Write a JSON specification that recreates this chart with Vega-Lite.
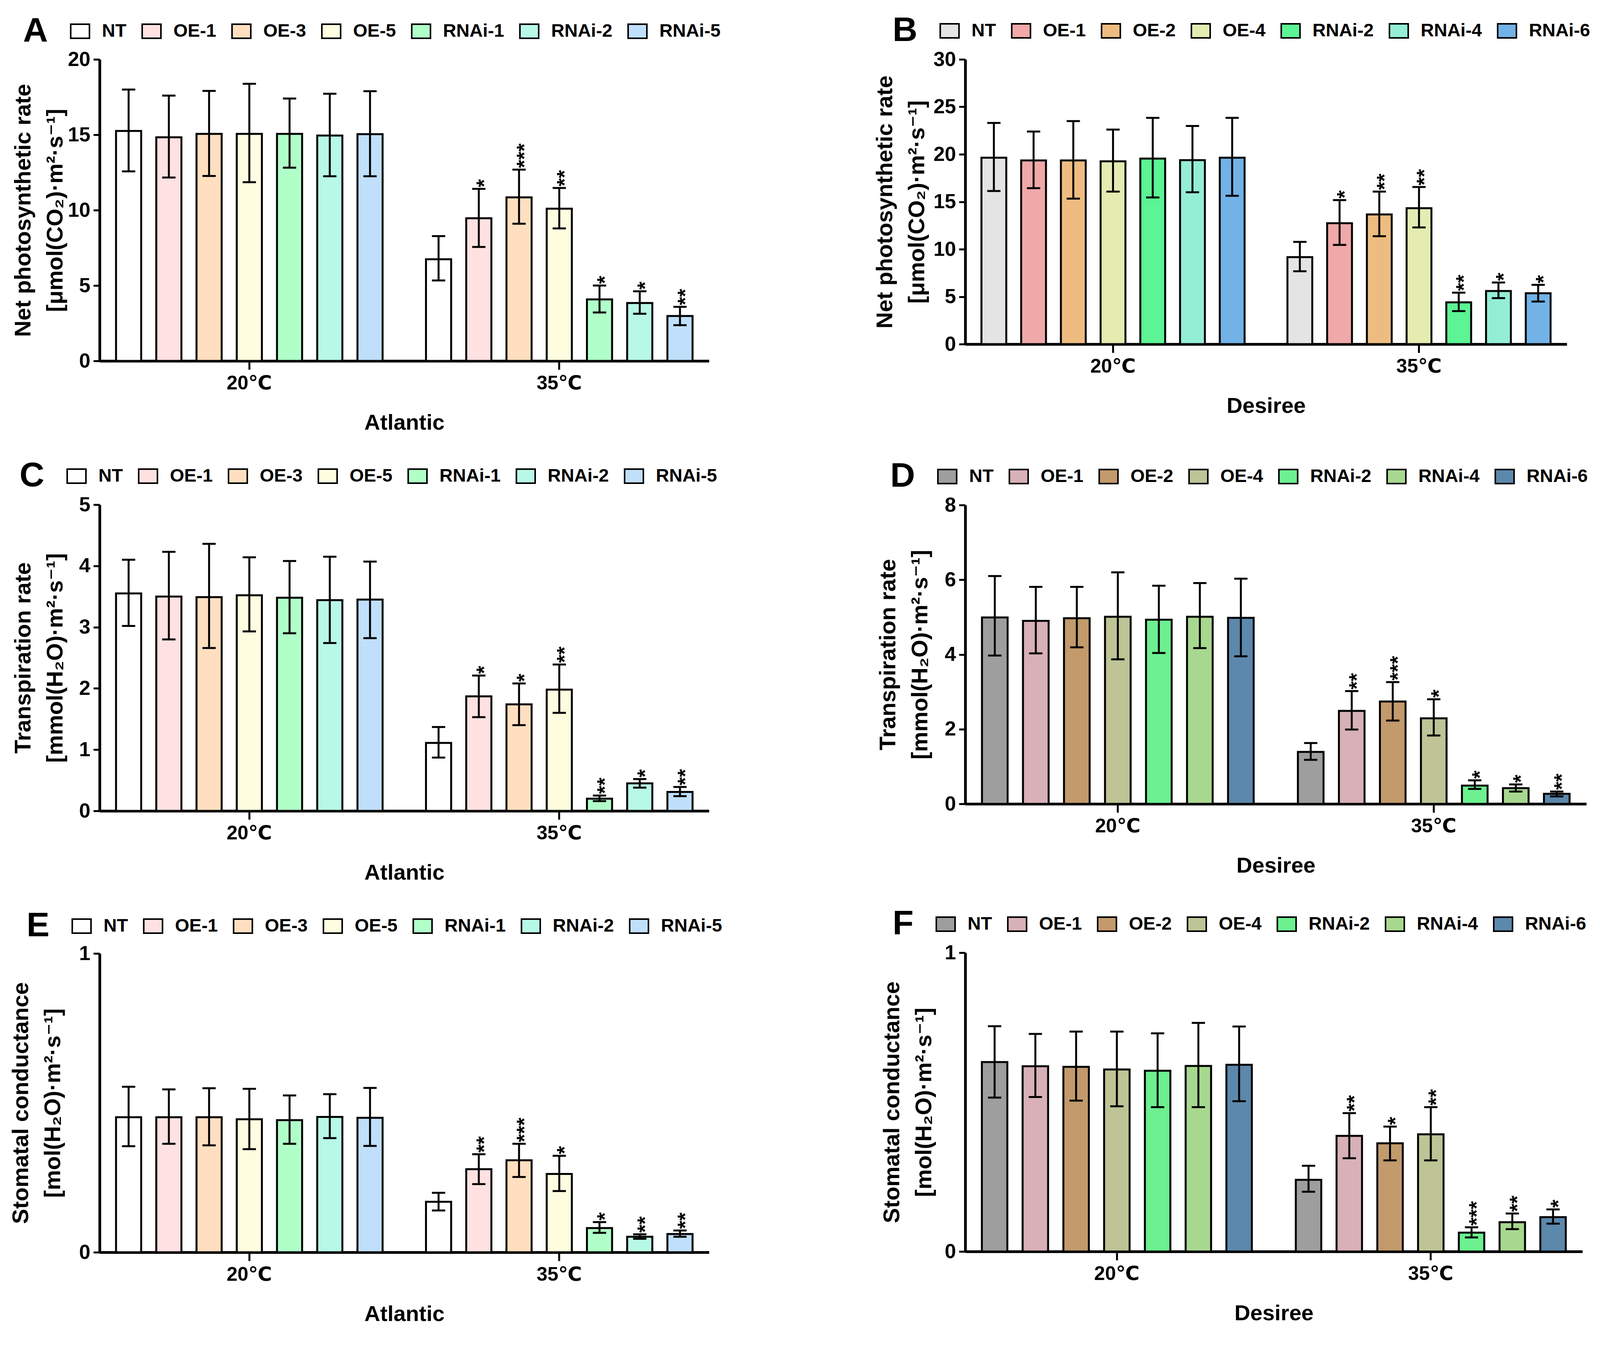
{
  "$schema": "https://vega.github.io/schema/vega-lite/v6.json",
  "background": "white",
  "padding": {"left": 24, "top": 53, "right": 0, "bottom": 0},
  "config": {
    "view": {"stroke": null},
    "font": "Liberation Sans, DejaVu Sans, sans-serif",
    "axis": {
      "grid": false,
      "domainColor": "black",
      "domainWidth": 7,
      "tickColor": "black",
      "tickWidth": 5,
      "labelColor": "black",
      "titleColor": "black",
      "labelFont": "Liberation Sans, DejaVu Sans, sans-serif",
      "labelFontWeight": "bold",
      "labelFontSize": 52
    },
    "axisX": {
      "tickSize": 22,
      "labelAngle": 0,
      "labelPadding": 10,
      "labelFontSize": 50,
      "titleFont": "Liberation Sans, DejaVu Sans, sans-serif",
      "titleFontSize": 56,
      "titleFontWeight": "bold",
      "titlePadding": 49
    },
    "axisY": {
      "tickSize": 16,
      "labelPadding": 8,
      "format": "~g",
      "titleFont": "Liberation Sans, DejaVu Sans, sans-serif",
      "titleFontSize": 58,
      "titleFontWeight": "bold",
      "titleLineHeight": 82
    },
    "legend": {
      "orient": "none",
      "direction": "horizontal",
      "titleOrient": "left",
      "titleFont": "Liberation Sans, DejaVu Sans, sans-serif",
      "titleFontSize": 88,
      "titleFontWeight": "bold",
      "titleColor": "black",
      "titlePadding": 56,
      "symbolType": "M-1,-0.75H1V0.75H-1Z",
      "symbolSize": 2304,
      "symbolStrokeColor": "black",
      "symbolStrokeWidth": 4,
      "symbolOpacity": 1,
      "labelFont": "Liberation Sans, DejaVu Sans, sans-serif",
      "labelFontWeight": "bold",
      "labelFontSize": 47,
      "labelColor": "black",
      "labelOffset": 30,
      "columnPadding": 32,
      "labelLimit": 400
    }
  },
  "datasets": {
    "gas": [
      {"panel": "A", "temp": "20℃", "line": "NT", "mean": 15.25, "lo": 12.57, "hi": 18.0, "sig": ""},
      {"panel": "A", "temp": "20℃", "line": "OE-1", "mean": 14.83, "lo": 12.16, "hi": 17.6, "sig": ""},
      {"panel": "A", "temp": "20℃", "line": "OE-3", "mean": 15.06, "lo": 12.27, "hi": 17.91, "sig": ""},
      {"panel": "A", "temp": "20℃", "line": "OE-5", "mean": 15.06, "lo": 11.85, "hi": 18.38, "sig": ""},
      {"panel": "A", "temp": "20℃", "line": "RNAi-1", "mean": 15.06, "lo": 12.82, "hi": 17.4, "sig": ""},
      {"panel": "A", "temp": "20℃", "line": "RNAi-2", "mean": 14.95, "lo": 12.25, "hi": 17.72, "sig": ""},
      {"panel": "A", "temp": "20℃", "line": "RNAi-5", "mean": 15.04, "lo": 12.25, "hi": 17.89, "sig": ""},
      {"panel": "A", "temp": "35℃", "line": "NT", "mean": 6.74, "lo": 5.34, "hi": 8.28, "sig": ""},
      {"panel": "A", "temp": "35℃", "line": "OE-1", "mean": 9.46, "lo": 7.56, "hi": 11.41, "sig": "*"},
      {"panel": "A", "temp": "35℃", "line": "OE-3", "mean": 10.85, "lo": 9.1, "hi": 12.69, "sig": "***"},
      {"panel": "A", "temp": "35℃", "line": "OE-5", "mean": 10.1, "lo": 8.79, "hi": 11.47, "sig": "**"},
      {"panel": "A", "temp": "35℃", "line": "RNAi-1", "mean": 4.08, "lo": 3.21, "hi": 5.0, "sig": "*"},
      {"panel": "A", "temp": "35℃", "line": "RNAi-2", "mean": 3.84, "lo": 3.13, "hi": 4.62, "sig": "*"},
      {"panel": "A", "temp": "35℃", "line": "RNAi-5", "mean": 2.98, "lo": 2.37, "hi": 3.59, "sig": "**"},

      {"panel": "B", "temp": "20℃", "line": "NT", "mean": 19.64, "lo": 16.13, "hi": 23.3, "sig": ""},
      {"panel": "B", "temp": "20℃", "line": "OE-1", "mean": 19.35, "lo": 16.43, "hi": 22.4, "sig": ""},
      {"panel": "B", "temp": "20℃", "line": "OE-2", "mean": 19.35, "lo": 15.33, "hi": 23.5, "sig": ""},
      {"panel": "B", "temp": "20℃", "line": "OE-4", "mean": 19.26, "lo": 16.07, "hi": 22.6, "sig": ""},
      {"panel": "B", "temp": "20℃", "line": "RNAi-2", "mean": 19.55, "lo": 15.45, "hi": 23.84, "sig": ""},
      {"panel": "B", "temp": "20℃", "line": "RNAi-4", "mean": 19.38, "lo": 16.0, "hi": 22.98, "sig": ""},
      {"panel": "B", "temp": "20℃", "line": "RNAi-6", "mean": 19.64, "lo": 15.63, "hi": 23.84, "sig": ""},
      {"panel": "B", "temp": "35℃", "line": "NT", "mean": 9.17, "lo": 7.68, "hi": 10.77, "sig": ""},
      {"panel": "B", "temp": "35℃", "line": "OE-1", "mean": 12.74, "lo": 10.45, "hi": 15.18, "sig": "*"},
      {"panel": "B", "temp": "35℃", "line": "OE-2", "mean": 13.66, "lo": 11.37, "hi": 16.07, "sig": "**"},
      {"panel": "B", "temp": "35℃", "line": "OE-4", "mean": 14.32, "lo": 12.29, "hi": 16.55, "sig": "**"},
      {"panel": "B", "temp": "35℃", "line": "RNAi-2", "mean": 4.4, "lo": 3.48, "hi": 5.42, "sig": "**"},
      {"panel": "B", "temp": "35℃", "line": "RNAi-4", "mean": 5.6, "lo": 4.85, "hi": 6.49, "sig": "*"},
      {"panel": "B", "temp": "35℃", "line": "RNAi-6", "mean": 5.36, "lo": 4.49, "hi": 6.25, "sig": "*"},

      {"panel": "C", "temp": "20℃", "line": "NT", "mean": 3.55, "lo": 3.02, "hi": 4.1, "sig": ""},
      {"panel": "C", "temp": "20℃", "line": "OE-1", "mean": 3.5, "lo": 2.8, "hi": 4.23, "sig": ""},
      {"panel": "C", "temp": "20℃", "line": "OE-3", "mean": 3.49, "lo": 2.66, "hi": 4.36, "sig": ""},
      {"panel": "C", "temp": "20℃", "line": "OE-5", "mean": 3.52, "lo": 2.93, "hi": 4.14, "sig": ""},
      {"panel": "C", "temp": "20℃", "line": "RNAi-1", "mean": 3.48, "lo": 2.9, "hi": 4.08, "sig": ""},
      {"panel": "C", "temp": "20℃", "line": "RNAi-2", "mean": 3.44, "lo": 2.74, "hi": 4.15, "sig": ""},
      {"panel": "C", "temp": "20℃", "line": "RNAi-5", "mean": 3.45, "lo": 2.82, "hi": 4.07, "sig": ""},
      {"panel": "C", "temp": "35℃", "line": "NT", "mean": 1.11, "lo": 0.87, "hi": 1.37, "sig": ""},
      {"panel": "C", "temp": "35℃", "line": "OE-1", "mean": 1.87, "lo": 1.53, "hi": 2.21, "sig": "*"},
      {"panel": "C", "temp": "35℃", "line": "OE-3", "mean": 1.74, "lo": 1.4, "hi": 2.08, "sig": "*"},
      {"panel": "C", "temp": "35℃", "line": "OE-5", "mean": 1.98, "lo": 1.6, "hi": 2.39, "sig": "**"},
      {"panel": "C", "temp": "35℃", "line": "RNAi-1", "mean": 0.2, "lo": 0.16, "hi": 0.25, "sig": "**"},
      {"panel": "C", "temp": "35℃", "line": "RNAi-2", "mean": 0.45, "lo": 0.38, "hi": 0.52, "sig": "*"},
      {"panel": "C", "temp": "35℃", "line": "RNAi-5", "mean": 0.31, "lo": 0.24, "hi": 0.39, "sig": "**"},

      {"panel": "D", "temp": "20℃", "line": "NT", "mean": 4.99, "lo": 3.97, "hi": 6.1, "sig": ""},
      {"panel": "D", "temp": "20℃", "line": "OE-1", "mean": 4.9, "lo": 4.03, "hi": 5.81, "sig": ""},
      {"panel": "D", "temp": "20℃", "line": "OE-2", "mean": 4.97, "lo": 4.19, "hi": 5.81, "sig": ""},
      {"panel": "D", "temp": "20℃", "line": "OE-4", "mean": 5.01, "lo": 3.87, "hi": 6.2, "sig": ""},
      {"panel": "D", "temp": "20℃", "line": "RNAi-2", "mean": 4.93, "lo": 4.04, "hi": 5.84, "sig": ""},
      {"panel": "D", "temp": "20℃", "line": "RNAi-4", "mean": 5.01, "lo": 4.17, "hi": 5.91, "sig": ""},
      {"panel": "D", "temp": "20℃", "line": "RNAi-6", "mean": 4.98, "lo": 3.95, "hi": 6.03, "sig": ""},
      {"panel": "D", "temp": "35℃", "line": "NT", "mean": 1.39, "lo": 1.18, "hi": 1.63, "sig": ""},
      {"panel": "D", "temp": "35℃", "line": "OE-1", "mean": 2.49, "lo": 1.99, "hi": 3.02, "sig": "**"},
      {"panel": "D", "temp": "35℃", "line": "OE-2", "mean": 2.74, "lo": 2.23, "hi": 3.26, "sig": "***"},
      {"panel": "D", "temp": "35℃", "line": "OE-4", "mean": 2.29, "lo": 1.83, "hi": 2.8, "sig": "*"},
      {"panel": "D", "temp": "35℃", "line": "RNAi-2", "mean": 0.49, "lo": 0.4, "hi": 0.63, "sig": "*"},
      {"panel": "D", "temp": "35℃", "line": "RNAi-4", "mean": 0.42, "lo": 0.33, "hi": 0.52, "sig": "*"},
      {"panel": "D", "temp": "35℃", "line": "RNAi-6", "mean": 0.27, "lo": 0.2, "hi": 0.33, "sig": "**"},

      {"panel": "E", "temp": "20℃", "line": "NT", "mean": 0.452, "lo": 0.355, "hi": 0.554, "sig": ""},
      {"panel": "E", "temp": "20℃", "line": "OE-1", "mean": 0.452, "lo": 0.363, "hi": 0.545, "sig": ""},
      {"panel": "E", "temp": "20℃", "line": "OE-3", "mean": 0.452, "lo": 0.358, "hi": 0.549, "sig": ""},
      {"panel": "E", "temp": "20℃", "line": "OE-5", "mean": 0.445, "lo": 0.345, "hi": 0.547, "sig": ""},
      {"panel": "E", "temp": "20℃", "line": "RNAi-1", "mean": 0.442, "lo": 0.363, "hi": 0.525, "sig": ""},
      {"panel": "E", "temp": "20℃", "line": "RNAi-2", "mean": 0.453, "lo": 0.382, "hi": 0.529, "sig": ""},
      {"panel": "E", "temp": "20℃", "line": "RNAi-5", "mean": 0.45, "lo": 0.356, "hi": 0.55, "sig": ""},
      {"panel": "E", "temp": "35℃", "line": "NT", "mean": 0.169, "lo": 0.14, "hi": 0.199, "sig": ""},
      {"panel": "E", "temp": "35℃", "line": "OE-1", "mean": 0.278, "lo": 0.228, "hi": 0.328, "sig": "**"},
      {"panel": "E", "temp": "35℃", "line": "OE-3", "mean": 0.308, "lo": 0.252, "hi": 0.363, "sig": "***"},
      {"panel": "E", "temp": "35℃", "line": "OE-5", "mean": 0.262, "lo": 0.205, "hi": 0.323, "sig": "*"},
      {"panel": "E", "temp": "35℃", "line": "RNAi-1", "mean": 0.081, "lo": 0.065, "hi": 0.101, "sig": "*"},
      {"panel": "E", "temp": "35℃", "line": "RNAi-2", "mean": 0.052, "lo": 0.045, "hi": 0.06, "sig": "**"},
      {"panel": "E", "temp": "35℃", "line": "RNAi-5", "mean": 0.061, "lo": 0.052, "hi": 0.073, "sig": "**"},

      {"panel": "F", "temp": "20℃", "line": "NT", "mean": 0.634, "lo": 0.515, "hi": 0.754, "sig": ""},
      {"panel": "F", "temp": "20℃", "line": "OE-1", "mean": 0.62, "lo": 0.517, "hi": 0.728, "sig": ""},
      {"panel": "F", "temp": "20℃", "line": "OE-2", "mean": 0.618, "lo": 0.505, "hi": 0.736, "sig": ""},
      {"panel": "F", "temp": "20℃", "line": "OE-4", "mean": 0.609, "lo": 0.486, "hi": 0.736, "sig": ""},
      {"panel": "F", "temp": "20℃", "line": "RNAi-2", "mean": 0.605, "lo": 0.483, "hi": 0.73, "sig": ""},
      {"panel": "F", "temp": "20℃", "line": "RNAi-4", "mean": 0.621, "lo": 0.483, "hi": 0.765, "sig": ""},
      {"panel": "F", "temp": "20℃", "line": "RNAi-6", "mean": 0.625, "lo": 0.503, "hi": 0.753, "sig": ""},
      {"panel": "F", "temp": "35℃", "line": "NT", "mean": 0.24, "lo": 0.2, "hi": 0.287, "sig": ""},
      {"panel": "F", "temp": "35℃", "line": "OE-1", "mean": 0.387, "lo": 0.312, "hi": 0.463, "sig": "**"},
      {"panel": "F", "temp": "35℃", "line": "OE-2", "mean": 0.362, "lo": 0.305, "hi": 0.418, "sig": "*"},
      {"panel": "F", "temp": "35℃", "line": "OE-4", "mean": 0.392, "lo": 0.305, "hi": 0.483, "sig": "**"},
      {"panel": "F", "temp": "35℃", "line": "RNAi-2", "mean": 0.063, "lo": 0.047, "hi": 0.081, "sig": "***"},
      {"panel": "F", "temp": "35℃", "line": "RNAi-4", "mean": 0.098, "lo": 0.075, "hi": 0.127, "sig": "**"},
      {"panel": "F", "temp": "35℃", "line": "RNAi-6", "mean": 0.115, "lo": 0.093, "hi": 0.141, "sig": "*"}
    ]
  },
  "data": {"name": "gas"},
  "resolve": {"scale": {"color": "independent", "xOffset": "independent"}, "legend": {"color": "independent"}},
  "spacing": 387,
  "hconcat": [
    {
      "resolve": {"scale": {"color": "independent", "xOffset": "independent"}, "legend": {"color": "independent"}},
      "spacing": 83,
      "vconcat": [
        {
          "width": 1560, "height": 772,
          "transform": [{"filter": "datum.panel === 'A'"}],
          "encoding": {
            "x": {"field": "temp", "type": "nominal", "sort": ["20℃", "35℃"], "scale": {"paddingInner": 0.14, "paddingOuter": 0.053}, "axis": {"title": "Atlantic"}},
            "xOffset": {"field": "line", "type": "nominal", "sort": ["NT", "OE-1", "OE-3", "OE-5", "RNAi-1", "RNAi-2", "RNAi-5"], "scale": {"paddingInner": 0.375, "paddingOuter": 0}}
          },
          "layer": [
            {"mark": {"type": "bar", "stroke": "black", "strokeWidth": 5},
             "encoding": {
               "y": {"field": "mean", "type": "quantitative", "scale": {"domain": [0, 20], "nice": false}, "axis": {"values": [0, 5, 10, 15, 20], "title": ["Net photosynthetic rate", "[μmol(CO₂)·m²·s⁻¹]"], "titleX": -166}},
               "color": {"field": "line", "type": "nominal", "scale": {"domain": ["NT", "OE-1", "OE-3", "OE-5", "RNAi-1", "RNAi-2", "RNAi-5"], "range": ["#FFFFFF", "#FFE1E1", "#FFDFBF", "#FFFDE0", "#B0FFC8", "#B8F8E6", "#C0DFFA"]}, "legend": {"title": "A", "legendX": -196, "legendY": -98}}
             }},
            {"mark": {"type": "rule", "color": "black", "strokeWidth": 5}, "encoding": {"y": {"field": "lo", "type": "quantitative"}, "y2": {"field": "hi"}}},
            {"mark": {"type": "tick", "color": "black", "size": 34, "thickness": 5, "opacity": 1}, "encoding": {"y": {"field": "hi", "type": "quantitative"}}},
            {"mark": {"type": "tick", "color": "black", "size": 34, "thickness": 5, "opacity": 1}, "encoding": {"y": {"field": "lo", "type": "quantitative"}}},
            {"mark": {"type": "text", "color": "black", "angle": 270, "align": "left", "baseline": "alphabetic", "dx": 4, "dy": 31, "fontSize": 54, "fontWeight": "bold"}, "encoding": {"y": {"field": "hi", "type": "quantitative"}, "text": {"field": "sig"}}}
          ]
        },
        {
          "width": 1560, "height": 784,
          "transform": [{"filter": "datum.panel === 'C'"}],
          "encoding": {
            "x": {"field": "temp", "type": "nominal", "sort": ["20℃", "35℃"], "scale": {"paddingInner": 0.14, "paddingOuter": 0.053}, "axis": {"title": "Atlantic"}},
            "xOffset": {"field": "line", "type": "nominal", "sort": ["NT", "OE-1", "OE-3", "OE-5", "RNAi-1", "RNAi-2", "RNAi-5"], "scale": {"paddingInner": 0.375, "paddingOuter": 0}}
          },
          "layer": [
            {"mark": {"type": "bar", "stroke": "black", "strokeWidth": 5},
             "encoding": {
               "y": {"field": "mean", "type": "quantitative", "scale": {"domain": [0, 5], "nice": false}, "axis": {"values": [0, 1, 2, 3, 4, 5], "title": ["Transpiration rate", "[mmol(H₂O)·m²·s⁻¹]"], "titleX": -166}},
               "color": {"field": "line", "type": "nominal", "scale": {"domain": ["NT", "OE-1", "OE-3", "OE-5", "RNAi-1", "RNAi-2", "RNAi-5"], "range": ["#FFFFFF", "#FFE1E1", "#FFDFBF", "#FFFDE0", "#B0FFC8", "#B8F8E6", "#C0DFFA"]}, "legend": {"title": "C", "legendX": -205, "legendY": -99}}
             }},
            {"mark": {"type": "rule", "color": "black", "strokeWidth": 5}, "encoding": {"y": {"field": "lo", "type": "quantitative"}, "y2": {"field": "hi"}}},
            {"mark": {"type": "tick", "color": "black", "size": 34, "thickness": 5, "opacity": 1}, "encoding": {"y": {"field": "hi", "type": "quantitative"}}},
            {"mark": {"type": "tick", "color": "black", "size": 34, "thickness": 5, "opacity": 1}, "encoding": {"y": {"field": "lo", "type": "quantitative"}}},
            {"mark": {"type": "text", "color": "black", "angle": 270, "align": "left", "baseline": "alphabetic", "dx": 4, "dy": 31, "fontSize": 54, "fontWeight": "bold"}, "encoding": {"y": {"field": "hi", "type": "quantitative"}, "text": {"field": "sig"}}}
          ]
        },
        {
          "width": 1560, "height": 765,
          "transform": [{"filter": "datum.panel === 'E'"}],
          "encoding": {
            "x": {"field": "temp", "type": "nominal", "sort": ["20℃", "35℃"], "scale": {"paddingInner": 0.14, "paddingOuter": 0.053}, "axis": {"title": "Atlantic"}},
            "xOffset": {"field": "line", "type": "nominal", "sort": ["NT", "OE-1", "OE-3", "OE-5", "RNAi-1", "RNAi-2", "RNAi-5"], "scale": {"paddingInner": 0.375, "paddingOuter": 0}}
          },
          "layer": [
            {"mark": {"type": "bar", "stroke": "black", "strokeWidth": 5},
             "encoding": {
               "y": {"field": "mean", "type": "quantitative", "scale": {"domain": [0, 1], "nice": false}, "axis": {"values": [0, 1], "title": ["Stomatal conductance", "[mol(H₂O)·m²·s⁻¹]"], "titleX": -172}},
               "color": {"field": "line", "type": "nominal", "scale": {"domain": ["NT", "OE-1", "OE-3", "OE-5", "RNAi-1", "RNAi-2", "RNAi-5"], "range": ["#FFFFFF", "#FFE1E1", "#FFDFBF", "#FFFDE0", "#B0FFC8", "#B8F8E6", "#C0DFFA"]}, "legend": {"title": "E", "legendX": -187, "legendY": -96}}
             }},
            {"mark": {"type": "rule", "color": "black", "strokeWidth": 5}, "encoding": {"y": {"field": "lo", "type": "quantitative"}, "y2": {"field": "hi"}}},
            {"mark": {"type": "tick", "color": "black", "size": 34, "thickness": 5, "opacity": 1}, "encoding": {"y": {"field": "hi", "type": "quantitative"}}},
            {"mark": {"type": "tick", "color": "black", "size": 34, "thickness": 5, "opacity": 1}, "encoding": {"y": {"field": "lo", "type": "quantitative"}}},
            {"mark": {"type": "text", "color": "black", "angle": 270, "align": "left", "baseline": "alphabetic", "dx": 4, "dy": 31, "fontSize": 54, "fontWeight": "bold"}, "encoding": {"y": {"field": "hi", "type": "quantitative"}, "text": {"field": "sig"}}}
          ]
        }
      ]
    },
    {
      "resolve": {"scale": {"color": "independent", "xOffset": "independent"}, "legend": {"color": "independent"}},
      "spacing": 127,
      "vconcat": [
        {
          "width": 1540, "height": 729,
          "transform": [{"filter": "datum.panel === 'B'"}],
          "encoding": {
            "x": {"field": "temp", "type": "nominal", "sort": ["20℃", "35℃"], "scale": {"paddingInner": 0.14, "paddingOuter": 0.053}, "axis": {"title": "Desiree"}},
            "xOffset": {"field": "line", "type": "nominal", "sort": ["NT", "OE-1", "OE-2", "OE-4", "RNAi-2", "RNAi-4", "RNAi-6"], "scale": {"paddingInner": 0.375, "paddingOuter": 0}}
          },
          "layer": [
            {"mark": {"type": "bar", "stroke": "black", "strokeWidth": 5},
             "encoding": {
               "y": {"field": "mean", "type": "quantitative", "scale": {"domain": [0, 30], "nice": false}, "axis": {"values": [0, 5, 10, 15, 20, 25, 30], "title": ["Net photosynthetic rate", "[μmol(CO₂)·m²·s⁻¹]"], "titleX": -176}},
               "color": {"field": "line", "type": "nominal", "scale": {"domain": ["NT", "OE-1", "OE-2", "OE-4", "RNAi-2", "RNAi-4", "RNAi-6"], "range": ["#E4E4E4", "#F0A8A8", "#EEBC80", "#E4ECB2", "#5CF494", "#94EED6", "#72B2E6"]}, "legend": {"title": "B", "legendX": -186, "legendY": -99}}
             }},
            {"mark": {"type": "rule", "color": "black", "strokeWidth": 5}, "encoding": {"y": {"field": "lo", "type": "quantitative"}, "y2": {"field": "hi"}}},
            {"mark": {"type": "tick", "color": "black", "size": 34, "thickness": 5, "opacity": 1}, "encoding": {"y": {"field": "hi", "type": "quantitative"}}},
            {"mark": {"type": "tick", "color": "black", "size": 34, "thickness": 5, "opacity": 1}, "encoding": {"y": {"field": "lo", "type": "quantitative"}}},
            {"mark": {"type": "text", "color": "black", "angle": 270, "align": "left", "baseline": "alphabetic", "dx": 4, "dy": 31, "fontSize": 54, "fontWeight": "bold"}, "encoding": {"y": {"field": "hi", "type": "quantitative"}, "text": {"field": "sig"}}}
          ]
        },
        {
          "resolve": {"scale": {"color": "independent", "xOffset": "independent"}, "legend": {"color": "independent"}},
          "spacing": 96,
          "vconcat": [
            {
              "width": 1590, "height": 765,
              "transform": [{"filter": "datum.panel === 'D'"}],
              "encoding": {
                "x": {"field": "temp", "type": "nominal", "sort": ["20℃", "35℃"], "scale": {"paddingInner": 0.14, "paddingOuter": 0.053}, "axis": {"title": "Desiree"}},
                "xOffset": {"field": "line", "type": "nominal", "sort": ["NT", "OE-1", "OE-2", "OE-4", "RNAi-2", "RNAi-4", "RNAi-6"], "scale": {"paddingInner": 0.375, "paddingOuter": 0}}
              },
              "layer": [
                {"mark": {"type": "bar", "stroke": "black", "strokeWidth": 5},
                 "encoding": {
                   "y": {"field": "mean", "type": "quantitative", "scale": {"domain": [0, 8], "nice": false}, "axis": {"values": [0, 2, 4, 6, 8], "title": ["Transpiration rate", "[mmol(H₂O)·m²·s⁻¹]"], "titleX": -168}},
                   "color": {"field": "line", "type": "nominal", "scale": {"domain": ["NT", "OE-1", "OE-2", "OE-4", "RNAi-2", "RNAi-4", "RNAi-6"], "range": ["#9E9E9E", "#D8B0B8", "#C29A6C", "#BEC496", "#6CF090", "#A8D890", "#5C88AC"]}, "legend": {"title": "D", "legendX": -192, "legendY": -99}}
                 }},
                {"mark": {"type": "rule", "color": "black", "strokeWidth": 5}, "encoding": {"y": {"field": "lo", "type": "quantitative"}, "y2": {"field": "hi"}}},
                {"mark": {"type": "tick", "color": "black", "size": 34, "thickness": 5, "opacity": 1}, "encoding": {"y": {"field": "hi", "type": "quantitative"}}},
                {"mark": {"type": "tick", "color": "black", "size": 34, "thickness": 5, "opacity": 1}, "encoding": {"y": {"field": "lo", "type": "quantitative"}}},
                {"mark": {"type": "text", "color": "black", "angle": 270, "align": "left", "baseline": "alphabetic", "dx": 4, "dy": 31, "fontSize": 54, "fontWeight": "bold"}, "encoding": {"y": {"field": "hi", "type": "quantitative"}, "text": {"field": "sig"}}}
              ]
            },
            {
              "width": 1580, "height": 765,
              "transform": [{"filter": "datum.panel === 'F'"}],
              "encoding": {
                "x": {"field": "temp", "type": "nominal", "sort": ["20℃", "35℃"], "scale": {"paddingInner": 0.14, "paddingOuter": 0.053}, "axis": {"title": "Desiree"}},
                "xOffset": {"field": "line", "type": "nominal", "sort": ["NT", "OE-1", "OE-2", "OE-4", "RNAi-2", "RNAi-4", "RNAi-6"], "scale": {"paddingInner": 0.375, "paddingOuter": 0}}
              },
              "layer": [
                {"mark": {"type": "bar", "stroke": "black", "strokeWidth": 5},
                 "encoding": {
                   "y": {"field": "mean", "type": "quantitative", "scale": {"domain": [0, 1], "nice": false}, "axis": {"values": [0, 1], "title": ["Stomatal conductance", "[mol(H₂O)·m²·s⁻¹]"], "titleX": -158}},
                   "color": {"field": "line", "type": "nominal", "scale": {"domain": ["NT", "OE-1", "OE-2", "OE-4", "RNAi-2", "RNAi-4", "RNAi-6"], "range": ["#9E9E9E", "#D8B0B8", "#C29A6C", "#BEC496", "#6CF090", "#A8D890", "#5C88AC"]}, "legend": {"title": "F", "legendX": -186, "legendY": -99}}
                 }},
                {"mark": {"type": "rule", "color": "black", "strokeWidth": 5}, "encoding": {"y": {"field": "lo", "type": "quantitative"}, "y2": {"field": "hi"}}},
                {"mark": {"type": "tick", "color": "black", "size": 34, "thickness": 5, "opacity": 1}, "encoding": {"y": {"field": "hi", "type": "quantitative"}}},
                {"mark": {"type": "tick", "color": "black", "size": 34, "thickness": 5, "opacity": 1}, "encoding": {"y": {"field": "lo", "type": "quantitative"}}},
                {"mark": {"type": "text", "color": "black", "angle": 270, "align": "left", "baseline": "alphabetic", "dx": 4, "dy": 31, "fontSize": 54, "fontWeight": "bold"}, "encoding": {"y": {"field": "hi", "type": "quantitative"}, "text": {"field": "sig"}}}
              ]
            }
          ]
        }
      ]
    }
  ]
}
